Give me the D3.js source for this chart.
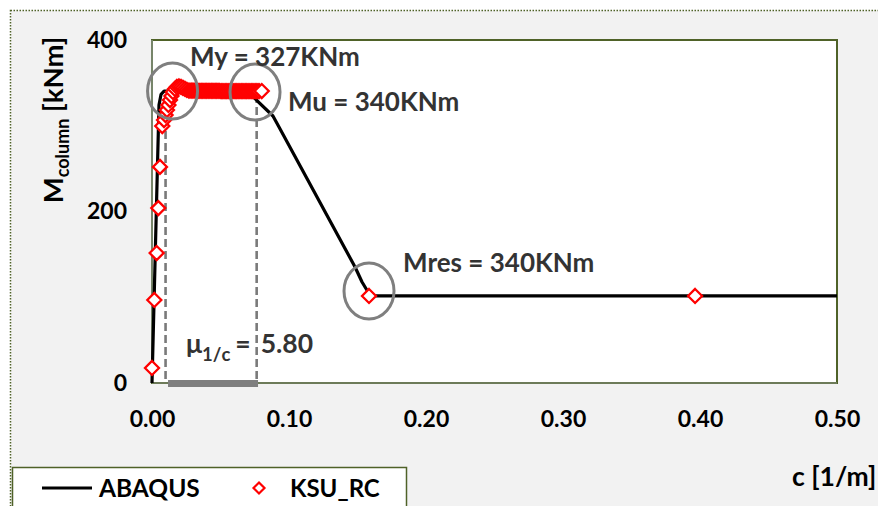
<!DOCTYPE html>
<html>
<head>
<meta charset="utf-8">
<script src="https://cdn.jsdelivr.net/npm/d3@7"></script>
<style>
    body { margin: 0; background: #fff; }
    text { font-family: Lato, "Open Sans", sans-serif; font-weight: bold; }
</style>
</head>
<body>
<div id="chart"></div>
<script>
// ABAQUS curve (curvature 1/m, moment kNm)
var abaqusCurv = [0, 0.0051, 0.0066, 0.0088, 0.070, 0.0883, 0.0927, 0.1482, 0.1533, 0.1577, 0.162, 0.5];
var abaqusMom = [0, 324, 336.7, 340.3, 339.6, 311.4, 298.5, 135.3, 117.8, 106.1, 101.5, 101.5];

// KSU_RC points
var ksuCurv = [0.0, 0.0017, 0.0034, 0.0046, 0.0058, 0.0075,
    0.0088, 0.0099, 0.0109, 0.0120, 0.0131, 0.0142, 0.0153, 0.0168, 0.0182, 0.0197,
    0.0212, 0.0226, 0.0241, 0.0255, 0.0270,
    0.0285, 0.0299, 0.0314, 0.0328, 0.0343, 0.0358, 0.0372, 0.0387, 0.0401, 0.0416,
    0.0431, 0.0445, 0.0460, 0.0474, 0.0489, 0.0504, 0.0518, 0.0533, 0.0547, 0.0562,
    0.0577, 0.0591, 0.0606, 0.0620, 0.0635, 0.0650, 0.0664, 0.0679, 0.0693, 0.0708,
    0.0723, 0.0737, 0.0752, 0.0766, 0.0781, 0.0801,
    0.1584, 0.3964];
var ksuMom = [17.5, 96.8, 151.6, 204, 252, 299.7,
    306.7, 312.5, 318.4, 324.2, 330.0, 334.7, 339.4, 342.9, 345.2, 345.8,
    345.2, 344.1, 342.9, 341.7, 341.1,
    341.0, 340.9, 340.9, 340.8, 340.8, 340.8, 340.7, 340.7, 340.7, 340.7,
    340.6, 340.6, 340.6, 340.6, 340.6, 340.5, 340.5, 340.5, 340.5, 340.5,
    340.5, 340.5, 340.4, 340.4, 340.4, 340.4, 340.4, 340.4, 340.4, 340.4,
    340.4, 340.4, 340.4, 340.4, 340.4, 340.5,
    101.5, 101.5];

var xTicks = [0, 0.1, 0.2, 0.3, 0.4, 0.5];
var yTicks = [0, 200, 400];

// yield / ultimate curvature marks
var dashCurv = [0.0099, 0.0764];
var barCurv = [0.0117, 0.0774];

// gray ellipses [curvature, moment]
var circleCurv = [0.0150, 0.0752, 0.1584];
var circleMom = [340.5, 339.4, 107.3];

var width = 878,
    height = 506;

var svg = d3.select("#chart")
    .append("svg")
    .attr("xmlns", "http://www.w3.org/2000/svg")
    .attr("width", width)
    .attr("height", height);

// chart area
svg.append("rect")
    .attr("x", 10.5).attr("y", 10.5)
    .attr("width", 920).attr("height", 540)
    .attr("fill", "#f2f2f2")
    .attr("stroke", "#4f6228")
    .attr("stroke-width", 1.5)
    .attr("stroke-dasharray", "1.5,1.5");

var x = d3.scaleLinear().domain([0, 0.5]).range([152, 837]);
var y = d3.scaleLinear().domain([0, 400]).range([383, 40]);

svg.append("rect")
    .attr("x", x(0)).attr("y", y(400))
    .attr("width", x(0.5) - x(0)).attr("height", y(0) - y(400))
    .attr("fill", "#fff")
    .attr("stroke", "#4f6228")
    .attr("stroke-width", 2);

svg.append("line")
    .attr("x1", x(0)).attr("x2", x(0))
    .attr("y1", y(400)).attr("y2", y(0))
    .attr("stroke", "#77856a").attr("stroke-width", 2);
svg.append("line")
    .attr("x1", x(0)).attr("x2", x(0.5))
    .attr("y1", y(0)).attr("y2", y(0))
    .attr("stroke", "#77856a").attr("stroke-width", 1.5);

// axes
var yAxis = svg.append("g")
    .attr("transform", "translate(" + x(0) + ",0)")
    .call(d3.axisLeft(y).tickValues(yTicks).tickSize(0).tickPadding(25));
var xAxis = svg.append("g")
    .attr("transform", "translate(0," + y(0) + ")")
    .call(d3.axisBottom(x).tickValues(xTicks).tickSize(0).tickPadding(28).tickFormat(d3.format(".2f")));

[yAxis, xAxis].forEach(function (a) {
    a.select(".domain").remove();
    a.selectAll("text")
        .attr("fill", "#000")
        .style("font-size", "23px")
        .style("font-family", "Lato")
        .style("font-weight", "bold");
});

// dashed lines + bar
svg.selectAll(".dash")
    .data(dashCurv)
    .enter()
    .append("line")
    .attr("class", "dash")
    .attr("x1", function (d) { return x(d) })
    .attr("x2", function (d) { return x(d) })
    .attr("y1", y(336))
    .attr("y2", y(0))
    .attr("stroke", "#7a7a7a")
    .attr("stroke-width", 2.6)
    .attr("stroke-dasharray", "8,4");

svg.append("line")
    .attr("x1", x(barCurv[0])).attr("x2", x(barCurv[1]))
    .attr("y1", y(0) + 0.5).attr("y2", y(0) + 0.5)
    .attr("stroke", "#7f7f7f")
    .attr("stroke-width", 7);

// ABAQUS line
var abaqus = abaqusCurv.map(function (c, i) { return [c, abaqusMom[i]] });
var line = d3.line()
    .x(function (d) { return x(d[0]) })
    .y(function (d) { return y(d[1]) });

svg.append("path")
    .datum(abaqus)
    .attr("d", line)
    .attr("fill", "none")
    .attr("stroke", "#000")
    .attr("stroke-width", 3.2)
    .attr("stroke-linejoin", "round");

// KSU_RC markers
var ksu = ksuCurv.map(function (c, i) { return [c, ksuMom[i]] });
var diamond = function (s) {
    return "M0,-" + s + "L" + s + ",0L0," + s + "L-" + s + ",0Z";
};
svg.selectAll(".ksu")
    .data(ksu)
    .enter()
    .append("path")
    .attr("class", "ksu")
    .attr("d", diamond(7))
    .attr("transform", function (d) {
        return "translate(" + x(d[0]) + "," + y(d[1]) + ")";
    })
    .attr("fill", "#fff")
    .attr("stroke", "#ff0000")
    .attr("stroke-width", 2.3);

// gray ellipses
svg.selectAll(".circ")
    .data(circleCurv)
    .enter()
    .append("ellipse")
    .attr("class", "circ")
    .attr("cx", function (d) { return x(d) })
    .attr("cy", function (d, i) { return y(circleMom[i]) })
    .attr("rx", 25)
    .attr("ry", 28)
    .attr("fill", "none")
    .attr("stroke", "#7f7f7f")
    .attr("stroke-width", 3);

// annotations
var notes = [
    { t: "My = 327KNm", x: 190, y: 66 },
    { t: "Mu = 340KNm", x: 288, y: 110.5 },
    { t: "Mres = 340KNm", x: 403, y: 271.5 }
];
svg.selectAll(".note")
    .data(notes)
    .enter()
    .append("text")
    .attr("class", "note")
    .attr("x", function (d) { return d.x })
    .attr("y", function (d) { return d.y })
    .attr("fill", "#333")
    .style("font-size", "26px")
    .text(function (d) { return d.t });

var mu = svg.append("text")
    .attr("x", 186)
    .attr("y", 353)
    .attr("fill", "#333")
    .style("font-size", "26.5px");
mu.append("tspan").text("μ");
mu.append("tspan").attr("dy", 8).style("font-size", "18.5px").text("1/c");
mu.append("tspan").attr("dy", -8).attr("dx", 5).text("=");
mu.append("tspan").attr("dx", 10).text("5.80");

// axis titles
var yt = svg.append("text")
    .attr("transform", "translate(63,120) rotate(-90)")
    .attr("text-anchor", "middle")
    .attr("fill", "#000")
    .style("font-size", "27.5px");
yt.append("tspan").text("M");
yt.append("tspan").attr("dy", 6).style("font-size", "18px").text("column");
yt.append("tspan").attr("dy", -6).text(" [kNm]");

svg.append("text")
    .attr("x", 792)
    .attr("y", 486)
    .attr("fill", "#000")
    .style("font-size", "26.5px")
    .text("c [1/m]");

// legend
svg.append("rect")
    .attr("x", 12.5).attr("y", 467.5)
    .attr("width", 394).attr("height", 60)
    .attr("fill", "#fff")
    .attr("stroke", "#4f6228")
    .attr("stroke-width", 1.5);
svg.append("line")
    .attr("x1", 42).attr("x2", 92)
    .attr("y1", 488).attr("y2", 488)
    .attr("stroke", "#000").attr("stroke-width", 3.2);
svg.append("text")
    .attr("x", 99).attr("y", 497)
    .attr("fill", "#000")
    .style("font-size", "24.5px")
    .text("ABAQUS");
svg.append("path")
    .attr("d", diamond(5.5))
    .attr("transform", "translate(259,488)")
    .attr("fill", "#fff")
    .attr("stroke", "#ff0000")
    .attr("stroke-width", 2.2);
svg.append("text")
    .attr("x", 290).attr("y", 497)
    .attr("fill", "#000")
    .style("font-size", "24px")
    .text("KSU_RC");
</script>
</body>
</html>
